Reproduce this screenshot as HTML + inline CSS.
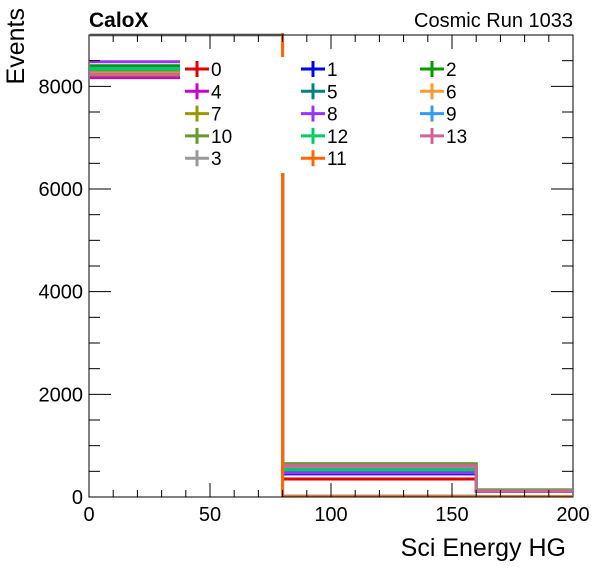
<!DOCTYPE html>
<html><head><meta charset="utf-8"><style>
body{margin:0;background:#fff;}
svg{display:block;font-family:"Liberation Sans",sans-serif;}
</style></head><body>
<svg id="c" width="596" height="572"></svg>
<script>
const binEdges=[0,80,160,200];
const seriesNames=["0","1","2","4","5","6","7","8","9","10","12","13","3","11"];
const seriesColors=["#e00000","#0000ee","#009900","#cc00cc","#008080","#ff9933","#999900","#9933ff","#3399ff","#669933","#00cc66","#cc6699","#999999","#ff6600"];
const s0=[8180,350,110];
const s1=[8250,450,120];
const s2=[8400,520,130];
const s4=[8170,560,120];
const s5=[8300,500,125];
const s6=[8260,600,130];
const s7=[8220,640,140];
const s8=[8480,470,120];
const s9=[8350,540,125];
const s10=[8320,650,140];
const s12=[8340,530,125];
const s13=[8240,610,120];
const s3=[9000,20,10];
const s11=[30000,0,0];
const seriesValues=[s0,s1,s2,s4,s5,s6,s7,s8,s9,s10,s12,s13,s3,s11];
const xTicks=[0,50,100,150,200];
const yTicks=[0,2000,4000,6000,8000];
const L=89,R=573,T=35,B=497,XMAX=200,YMAX=9000;
const X=v=>L+(v/XMAX)*(R-L);
const Y=v=>B-(Math.min(v,YMAX*1.5)/YMAX)*(B-T);
const NS="http://www.w3.org/2000/svg";
const svg=document.getElementById("c");
function mk(t,a,p){const e=document.createElementNS(NS,t);for(const k in a)e.setAttribute(k,a[k]);(p||svg).appendChild(e);return e;}
const clip=mk("clipPath",{id:"pc"});mk("rect",{x:L+1,y:T-2,width:R-L-2,height:B-T+2},clip);
const g=mk("g",{"clip-path":"url(#pc)"});
seriesValues.forEach((vals,i)=>{
  let d="";
  vals.forEach((v,j)=>{d+=(j===0?"M":" L")+X(binEdges[j])+","+Y(v)+" L"+X(binEdges[j+1])+","+Y(v);});
  const p=mk("path",{d:d,fill:"none",stroke:seriesColors[i],"stroke-width":3},g);
  
  
});
const lg=mk("g",{});


mk("rect",{x:180,y:57,width:290,height:116,fill:"#fff"},lg);
const legOrder=["0","1","2","4","5","6","7","8","9","10","12","13","3","11"];
legOrder.forEach((n,k)=>{
  const i=seriesNames.indexOf(n);
  const col=k%3,row=Math.floor(k/3);
  const cx=[197,313,432][col],cy=69+row*22.3;
  const e=mk("g",{},lg);
  
  
  mk("line",{x1:cx-12,y1:cy,x2:cx+12,y2:cy,stroke:seriesColors[i],"stroke-width":3},e);
  mk("line",{x1:cx,y1:cy-8,x2:cx,y2:cy+8,stroke:seriesColors[i],"stroke-width":3},e);
  const t=mk("text",{x:cx+14,y:cy+7,"font-size":19},e);t.textContent=n;
});
const ax=mk("g",{stroke:"#000","stroke-width":1,fill:"none"});


mk("rect",{x:L,y:T,width:R-L,height:B-T},ax);
for(let v=0;v<=XMAX;v+=10){const maj=v%50===0,l=maj?14:7;
  mk("line",{x1:X(v),y1:B,x2:X(v),y2:B-l},ax);mk("line",{x1:X(v),y1:T,x2:X(v),y2:T+l},ax);}
for(let v=0;v<=YMAX;v+=500){const maj=v%2000===0,l=maj?22:11;
  mk("line",{x1:L,y1:Y(v),x2:L+l,y2:Y(v)},ax);mk("line",{x1:R,y1:Y(v),x2:R-l,y2:Y(v)},ax);}
xTicks.forEach(v=>{const t=mk("text",{x:X(v),y:521,"font-size":20,"text-anchor":"middle"});t.textContent=v;
  });
yTicks.forEach(v=>{const t=mk("text",{x:83,y:Y(v)+7,"font-size":20,"text-anchor":"end"});t.textContent=v;
  });
let t=mk("text",{x:566,y:556,"font-size":25,"text-anchor":"end"});t.textContent="Sci Energy HG";

t=mk("text",{x:0,y:0,"font-size":25,"text-anchor":"end",transform:"translate(24,8) rotate(-90)"});t.textContent="Events";

t=mk("text",{x:89,y:27,"font-size":21,"font-weight":"bold"});t.textContent="CaloX";

t=mk("text",{x:573,y:27,"font-size":20,"text-anchor":"end"});t.textContent="Cosmic Run 1033";

</script>
</body></html>
